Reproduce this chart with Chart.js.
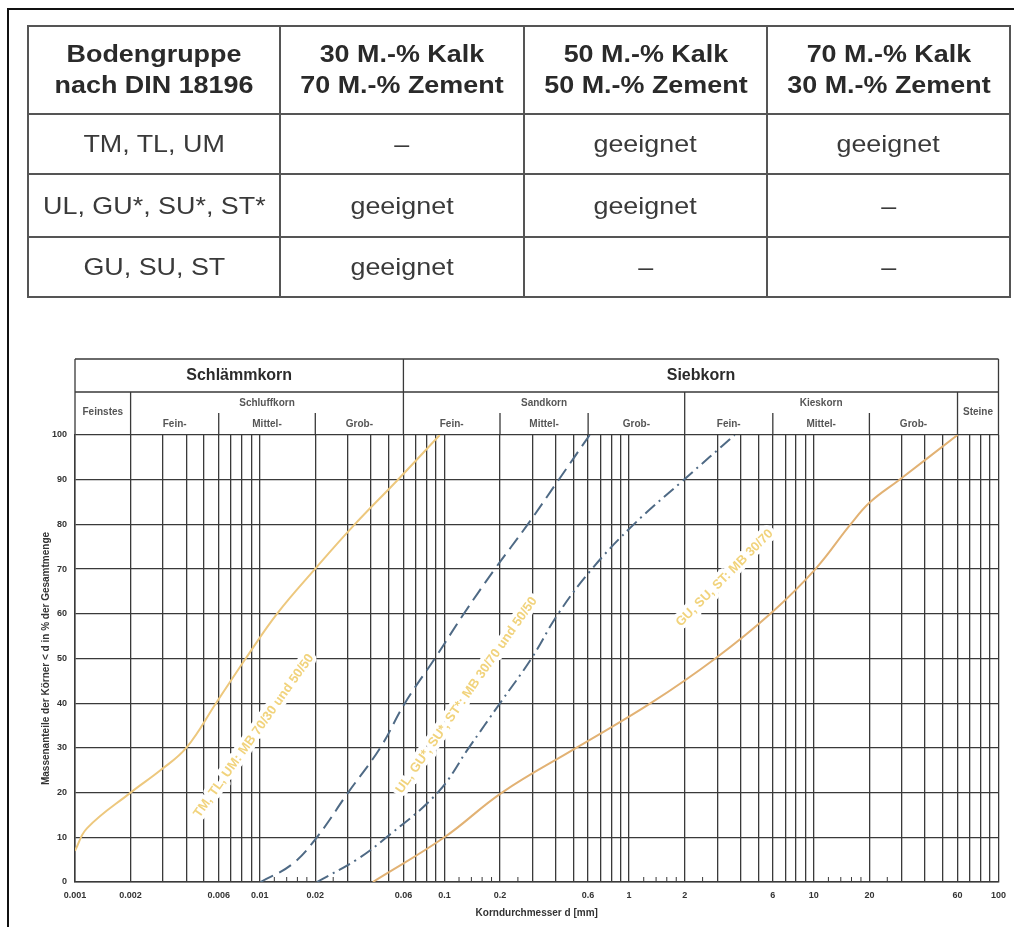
<!DOCTYPE html>
<html><head><meta charset="utf-8">
<script src="https://cdn.jsdelivr.net/npm/chart.js@4.4.1/dist/chart.umd.min.js"></script>
<style>
html,body{margin:0;padding:0;background:#fff;width:1014px;height:927px;overflow:hidden;}
#frame{position:absolute;left:7px;top:8px;width:1020px;height:930px;border-top:2px solid #111;border-left:2px solid #111;}
#cv{position:absolute;left:0;top:0;}
#tbl{position:absolute;left:27px;top:25px;width:982px;border-collapse:collapse;table-layout:fixed;font-family:"Liberation Sans",Arial,sans-serif;color:#333;}
#tbl td{border:2px solid #555;text-align:center;vertical-align:middle;padding:0;white-space:nowrap;}
#tbl tr.h td{height:86px;font-weight:bold;font-size:23px;line-height:31px;color:#2a2a2a;}
#tbl tr.b td{font-size:24px;color:#3a3a3a;}
#tbl span{display:inline-block;}
#tbl tr.h span{transform:scaleX(1.17);}
#tbl tr.b span{transform:scaleX(1.12);}
</style></head>
<body>
<div id="frame"></div>
<canvas id="cv" width="1014" height="927"></canvas>
<table id="tbl">
<colgroup><col style="width:252px"><col style="width:244px"><col style="width:243px"><col style="width:243px"></colgroup>
<tr class="h"><td><span>Bodengruppe<br>nach DIN 18196</span></td><td><span>30 M.-% Kalk<br>70 M.-% Zement</span></td><td><span>50 M.-% Kalk<br>50 M.-% Zement</span></td><td><span>70 M.-% Kalk<br>30 M.-% Zement</span></td></tr>
<tr class="b" style="height:60px"><td><span>TM, TL, UM</span></td><td><span>–</span></td><td><span>geeignet</span></td><td><span>geeignet</span></td></tr>
<tr class="b" style="height:63px"><td><span>UL, GU*, SU*, ST*</span></td><td><span>geeignet</span></td><td><span>geeignet</span></td><td><span>–</span></td></tr>
<tr class="b" style="height:60px"><td><span>GU, SU, ST</span></td><td><span>geeignet</span></td><td><span>–</span></td><td><span>–</span></td></tr>
</table>
<script>
// ---- data ----
const tmX = [0.001, 0.00116, 0.002, 0.0029, 0.004, 0.0058, 0.0084, 0.0124, 0.0199, 0.0327, 0.056, 0.0944];
const tmY = [7, 12, 20, 25, 30, 40, 50, 60, 70, 80, 90, 100];
const ulDashX = [0.0101, 0.015, 0.0204, 0.0301, 0.0449, 0.0611, 0.0887, 0.1274, 0.1874, 0.2827, 0.416, 0.612];
const ulDashY = [0, 4, 10, 20, 30, 40, 50, 60, 70, 80, 90, 100];
const ulDotX = [0.0204, 0.0335, 0.0486, 0.092, 0.1355, 0.2, 0.296, 0.413, 0.628, 1.06, 1.98, 3.73];
const ulDotY = [0, 5, 10, 20, 30, 40, 50, 60, 70, 80, 90, 100];
const guX = [0.041, 0.1, 0.205, 0.517, 1.31, 2.93, 5.82, 10.2, 15.8, 20.2, 29.1, 60];
const guY = [0, 10, 20, 30, 40, 50, 60, 70, 80, 85, 90, 100];

const xTickLabels = ['0.001','0.002','0.006','0.01','0.02','0.06','0.1','0.2','0.6','1','2','6','10','20','60','100'];
const yTickLabels = ['0','10','20','30','40','50','60','70','80','90','100'];

const curveLabels = ['TM, TL, UM: MB 70/30 und 50/50', 'UL, GU*, SU*, ST*: MB 30/70 und 50/50', 'GU, SU, ST: MB 30/70'];
const curveLabelAt = [[0.0093, 32.7, -54.5], [0.132, 41.8, -55], [3.29, 68, -45]];

const mainGroups = [['Schlämmkorn', 0.001, 0.06], ['Siebkorn', 0.06, 100]];
const subGroups = [['Feinstes', 0.001, 0.002], ['Schluffkorn', 0.002, 0.06], ['Sandkorn', 0.06, 2], ['Kieskorn', 2, 60], ['Steine', 60, 100]];
const fractions = [['Fein-', 0.002, 0.006], ['Mittel-', 0.006, 0.02], ['Grob-', 0.02, 0.06],
                   ['Fein-', 0.06, 0.2], ['Mittel-', 0.2, 0.6], ['Grob-', 0.6, 2],
                   ['Fein-', 2, 6], ['Mittel-', 6, 20], ['Grob-', 20, 60]];
const minorTickDecades = [0.01, 0.1, 1, 10];
const minorTickFactors = [1.2, 1.4, 1.6, 1.8, 2.5];

// ---- build ----
const zip = (xs, ys) => xs.map((x, i) => ({x: x, y: ys[i]}));
const xTickValues = xTickLabels.map(parseFloat);
const gridValues = [];
for (let e = -3; e <= 1; e++) for (let m = 1; m <= 9; m++) gridValues.push(Number((m * Math.pow(10, e)).toPrecision(10)));
gridValues.push(100);

const GRID = '#3a3a3a';
const FONT = '"Liberation Sans", Arial, sans-serif';

const headerPlugin = {
  id: 'header',
  afterDraw(chart) {
    const {ctx, chartArea: a} = chart;
    const xs = chart.scales.x;
    const px = v => xs.getPixelForValue(v);
    const yTop = a.top - 76, yRow = a.top - 43, ySub = a.top - 22;
    ctx.save();
    ctx.strokeStyle = GRID; ctx.lineWidth = 1.3;
    ctx.beginPath();
    ctx.moveTo(a.left, yTop); ctx.lineTo(a.right, yTop);
    ctx.moveTo(a.left, yRow); ctx.lineTo(a.right, yRow);
    ctx.moveTo(a.left, yTop); ctx.lineTo(a.left, a.top);
    ctx.moveTo(a.right, yTop); ctx.lineTo(a.right, a.top);
    ctx.moveTo(px(0.06), yTop); ctx.lineTo(px(0.06), a.top);
    [0.002, 2, 60].forEach(v => { ctx.moveTo(px(v), yRow); ctx.lineTo(px(v), a.top); });
    [0.006, 0.02, 0.2, 0.6, 6, 20].forEach(v => { ctx.moveTo(px(v), ySub); ctx.lineTo(px(v), a.top); });
    ctx.stroke();
    ctx.textAlign = 'center'; ctx.textBaseline = 'middle';
    ctx.fillStyle = '#2b2b2b'; ctx.font = 'bold 16px ' + FONT;
    mainGroups.forEach(g => ctx.fillText(g[0], (px(g[1]) + px(g[2])) / 2, yTop + 17));
    ctx.fillStyle = '#555'; ctx.font = 'bold 10px ' + FONT;
    subGroups.forEach(g => {
      const single = (g[0] === 'Feinstes' || g[0] === 'Steine');
      ctx.fillText(g[0], (px(g[1]) + px(g[2])) / 2, single ? yRow + 20 : yRow + 11);
    });
    fractions.forEach(g => ctx.fillText(g[0], (px(g[1]) + px(g[2])) / 2, ySub + 11));
    // minor ticks at bottom
    ctx.strokeStyle = GRID; ctx.lineWidth = 1;
    ctx.beginPath();
    minorTickDecades.forEach(d => minorTickFactors.forEach(f => {
      const x = px(d * f); ctx.moveTo(x, a.bottom); ctx.lineTo(x, a.bottom - 5);
    }));
    ctx.stroke();
    ctx.restore();
  }
};

const labelPlugin = {
  id: 'curveLabels',
  afterDatasetsDraw(chart) {
    const {ctx} = chart;
    const xs = chart.scales.x, ys = chart.scales.y;
    ctx.save();
    ctx.font = 'bold 13px ' + FONT;
    ctx.textAlign = 'center'; ctx.textBaseline = 'middle';
    ctx.lineJoin = 'round';
    curveLabels.forEach((t, i) => {
      const p = curveLabelAt[i];
      ctx.save();
      ctx.translate(xs.getPixelForValue(p[0]), ys.getPixelForValue(p[1]));
      ctx.rotate(p[2] * Math.PI / 180);
      ctx.strokeStyle = '#ffffff'; ctx.lineWidth = 8;
      ctx.strokeText(t, 0, 0);
      ctx.fillStyle = '#f1d37c';
      ctx.fillText(t, 0, 0);
      ctx.restore();
    });
    ctx.restore();
  }
};

const base = {showLine: true, pointRadius: 0, borderWidth: 2, tension: 0.4, fill: false};

new Chart(document.getElementById('cv'), {
  type: 'scatter',
  data: {
    datasets: [
      Object.assign({label: 'TM, TL, UM', data: zip(tmX, tmY), borderColor: '#edc87e'}, base),
      Object.assign({label: 'UL, GU*, SU*, ST* (Grenze 1)', data: zip(ulDashX, ulDashY), borderColor: '#4f6a85', borderDash: [14, 7]}, base),
      Object.assign({label: 'UL, GU*, SU*, ST* (Grenze 2)', data: zip(ulDotX, ulDotY), borderColor: '#4f6a85', borderDash: [13, 5, 2, 5]}, base),
      Object.assign({label: 'GU, SU, ST', data: zip(guX, guY), borderColor: '#e2b274'}, base)
    ]
  },
  options: {
    responsive: false, animation: false, devicePixelRatio: 1,
    layout: {padding: {left: 0, top: 435, right: 15, bottom: 0}},
    plugins: {legend: {display: false}, tooltip: {enabled: false}},
    scales: {
      x: {
        type: 'logarithmic', min: 0.001, max: 100,
        afterBuildTicks: s => { s.ticks = gridValues.map(v => ({value: v})); },
        afterFit: s => { s.height = 45; },
        grid: {color: GRID, lineWidth: 1.3, drawTicks: false},
        border: {color: GRID, width: 1.5},
        ticks: {
          autoSkip: false, maxRotation: 0, minRotation: 0, padding: 8,
          font: {family: FONT, size: 9, weight: 'bold'}, color: '#333',
          callback: v => {
            const i = xTickValues.findIndex(t => Math.abs(Math.log10(t) - Math.log10(v)) < 1e-6);
            return i >= 0 ? xTickLabels[i] : '';
          }
        },
        title: {display: true, text: 'Korndurchmesser d [mm]', color: '#333',
                font: {family: FONT, size: 10, weight: 'bold'}, padding: {top: 0, bottom: 8}}
      },
      y: {
        min: 0, max: 100,
        afterFit: s => { s.width = 75; },
        grid: {color: GRID, lineWidth: 1.3, drawTicks: false},
        border: {color: GRID, width: 1.5},
        ticks: {stepSize: 10, padding: 8, font: {family: FONT, size: 9, weight: 'bold'}, color: '#333',
                callback: (v, i) => yTickLabels[i]},
        title: {display: true, text: 'Massenanteile der Körner < d in % der Gesamtmenge', color: '#333',
                font: {family: FONT, size: 10, weight: 'bold'}, padding: {top: 40, bottom: 0}}
      }
    }
  },
  plugins: [headerPlugin, labelPlugin]
});
</script>
</body></html>
